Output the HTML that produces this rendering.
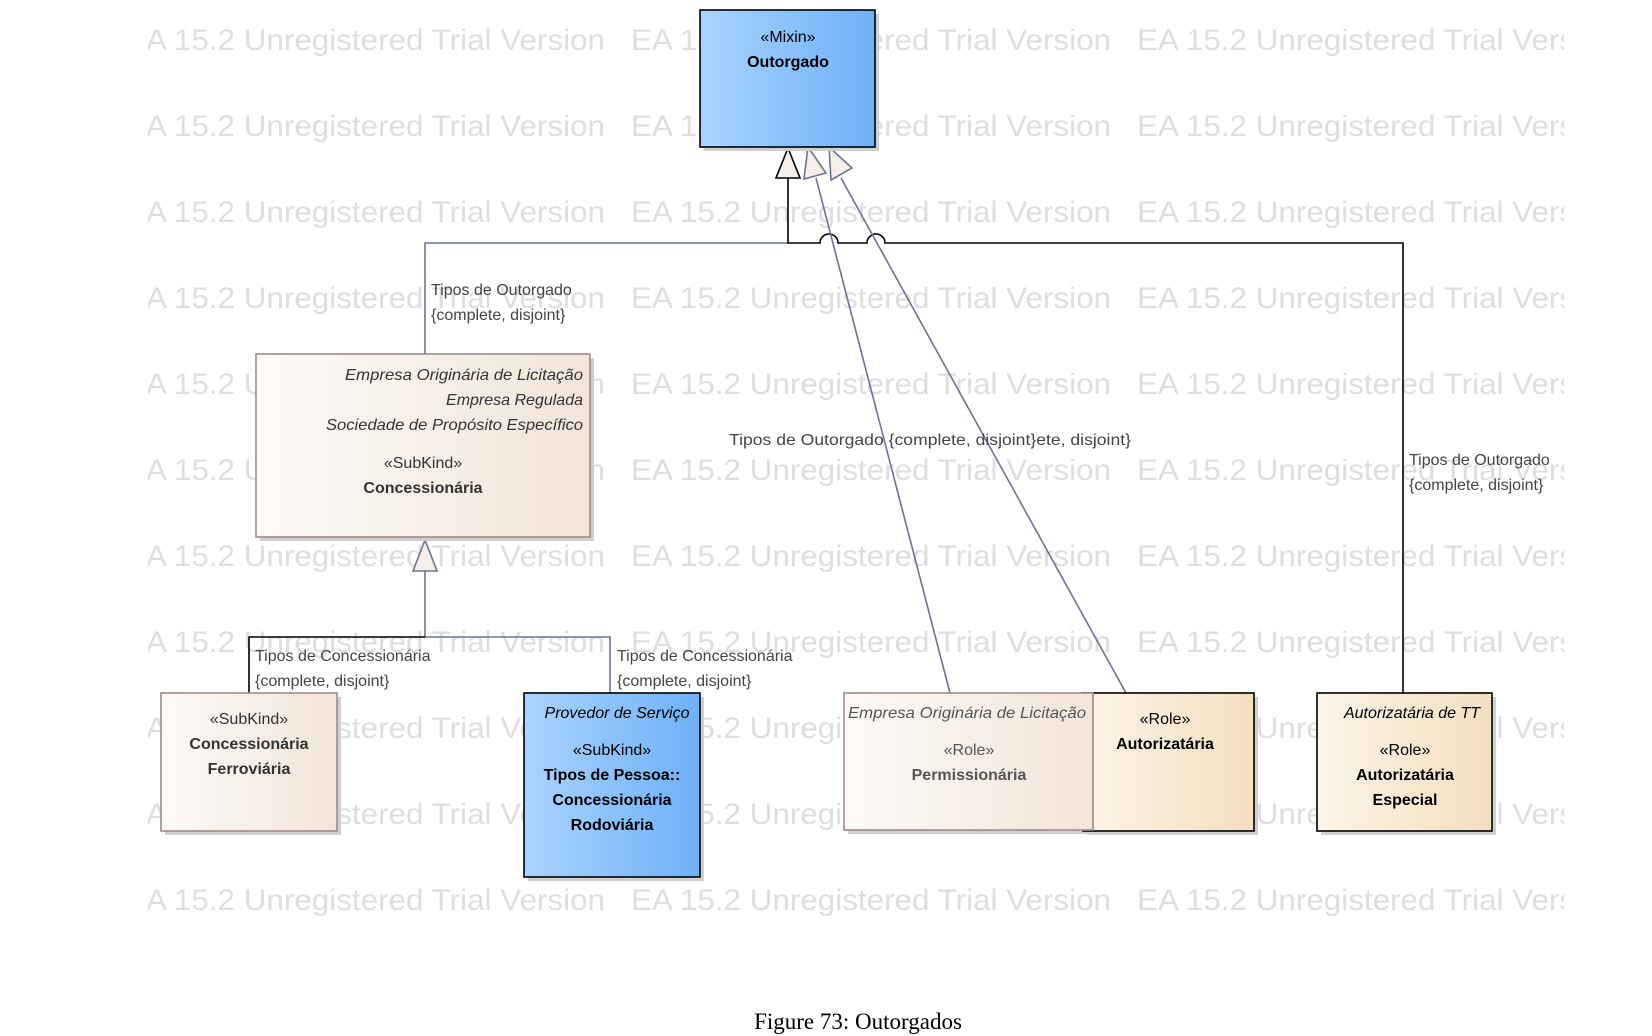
<!DOCTYPE html>
<html><head><meta charset="utf-8"><style>
html,body{margin:0;padding:0;background:#fff;}
svg{display:block;}
text{font-family:"Liberation Sans",sans-serif;}
.wm{font-size:30px;fill:#dedede;}
.t{font-size:16px;fill:#333;}
.l{font-size:16px;fill:#444;}
.b{font-weight:bold;}
.i{font-style:italic;}
</style></head><body>
<svg width="1652" height="1036" viewBox="0 0 1652 1036" xmlns="http://www.w3.org/2000/svg">
<defs>
<linearGradient id="blue" x1="0" x2="1" y1="0" y2="0"><stop offset="0" stop-color="#aad3ff"/><stop offset="1" stop-color="#6db1f7"/></linearGradient>
<linearGradient id="pale" x1="0" x2="1" y1="0" y2="0"><stop offset="0" stop-color="#fcfaf8"/><stop offset="1" stop-color="#f3e5d8"/></linearGradient>
<linearGradient id="tan" x1="0" x2="1" y1="0" y2="0"><stop offset="0" stop-color="#fcf4e8"/><stop offset="1" stop-color="#f3dfbf"/></linearGradient>
<clipPath id="wc"><rect x="148" y="0" width="1416" height="1000"/></clipPath>
</defs>
<g clip-path="url(#wc)" class="wm">
<g id="row">
<text x="125" y="50" textLength="480" lengthAdjust="spacingAndGlyphs">EA 15.2 Unregistered Trial Version</text>
<text x="631" y="50" textLength="480" lengthAdjust="spacingAndGlyphs">EA 15.2 Unregistered Trial Version</text>
<text x="1137" y="50" textLength="480" lengthAdjust="spacingAndGlyphs">EA 15.2 Unregistered Trial Version</text>
</g>
<use href="#row" y="86"/><use href="#row" y="172"/><use href="#row" y="258"/><use href="#row" y="344"/><use href="#row" y="430"/><use href="#row" y="516"/><use href="#row" y="602"/><use href="#row" y="688"/><use href="#row" y="774"/><use href="#row" y="860"/>
</g>
<rect x="0" y="960" width="1652" height="30" fill="#fff"/>

<g fill="none" stroke-width="1.6">
<path d="M425 354 V243 H788" stroke="#6a7590"/>
<path d="M788 178 V243 H820 a9 9 0 0 1 18 0 H867 a9 9 0 0 1 18 0 H1403 V693" stroke="#000"/>
<path d="M816 178 L950 693" stroke="#6a7590"/>
<path d="M841 178 L1126 693" stroke="#6a7590"/>
<path d="M425 570 V637 H610 V693" stroke="#6a7590"/>
<path d="M425 637 H249 V693" stroke="#000"/>
</g>
<polygon points="788,148 776,178 800,178" fill="#f6efe9" stroke="#000" stroke-width="1.6"/>
<polygon points="808,147 804,179 826,173" fill="#f6efe9" stroke="#6a7590" stroke-width="1.6"/>
<polygon points="829,147 831,180 852,168" fill="#f6efe9" stroke="#6a7590" stroke-width="1.6"/>
<polygon points="425,540 413,571 437,571" fill="#f6efe9" stroke="#6a7590" stroke-width="1.6"/>

<g fill="#cfcfcf">
<rect x="704" y="14" width="175" height="137"/>
<rect x="260" y="358" width="334" height="183"/>
<rect x="165" y="697" width="176" height="138"/>
<rect x="528" y="697" width="176" height="184"/>
<rect x="848" y="697" width="249" height="137"/>
<rect x="1087" y="697" width="171" height="138"/>
<rect x="1321" y="697" width="175" height="138"/>
</g>
<rect x="700" y="10" width="175" height="137" fill="url(#blue)" stroke="#000" stroke-width="1.6"/>
<rect x="256" y="354" width="334" height="183" fill="url(#pale)" stroke="#a08a88" stroke-width="1.6"/>
<rect x="161" y="693" width="176" height="138" fill="url(#pale)" stroke="#a08a88" stroke-width="1.6"/>
<rect x="524" y="693" width="176" height="184" fill="url(#blue)" stroke="#000" stroke-width="1.6"/>
<rect x="1083" y="693" width="171" height="138" fill="url(#tan)" stroke="#000" stroke-width="1.6"/>
<rect x="844" y="693" width="249" height="137" fill="url(#pale)" stroke="#a08a88" stroke-width="1.6"/>
<rect x="1317" y="693" width="175" height="138" fill="url(#tan)" stroke="#000" stroke-width="1.6"/>

<g class="t" text-anchor="middle">
<text x="788" y="42" fill="#000">«Mixin»</text>
<text x="788" y="67" class="b" fill="#000">Outorgado</text>
<g text-anchor="end" class="i"><text x="583" y="380" textLength="238" lengthAdjust="spacingAndGlyphs">Empresa Originária de Licitação</text><text x="583" y="405">Empresa Regulada</text><text x="583" y="430" textLength="257" lengthAdjust="spacingAndGlyphs">Sociedade de Propósito Específico</text></g>
<text x="423" y="468">«SubKind»</text>
<text x="423" y="493" class="b">Concessionária</text>
<text x="249" y="724">«SubKind»</text>
<text x="249" y="749" class="b">Concessionária</text>
<text x="249" y="774" class="b">Ferroviária</text>
<text x="617" y="718" class="i" fill="#000">Provedor de Serviço</text>
<text x="612" y="755" fill="#000">«SubKind»</text>
<text x="612" y="780" class="b" fill="#000">Tipos de Pessoa::</text>
<text x="612" y="805" class="b" fill="#000">Concessionária</text>
<text x="612" y="830" class="b" fill="#000">Rodoviária</text>
<text x="967" y="718" class="i" fill="#555" textLength="238" lengthAdjust="spacingAndGlyphs">Empresa Originária de Licitação</text>
<text x="969" y="755" fill="#555">«Role»</text>
<text x="969" y="780" class="b" fill="#555">Permissionária</text>
<text x="1165" y="724" fill="#000">«Role»</text>
<text x="1165" y="749" class="b" fill="#000">Autorizatária</text>
<text x="1412" y="718" class="i" fill="#000">Autorizatária de TT</text>
<text x="1405" y="755" fill="#000">«Role»</text>
<text x="1405" y="780" class="b" fill="#000">Autorizatária</text>
<text x="1405" y="805" class="b" fill="#000">Especial</text>
</g>
<g class="l">
<text x="431" y="295">Tipos de Outorgado</text>
<text x="431" y="320">{complete, disjoint}</text>
<text x="729" y="445" textLength="402" lengthAdjust="spacingAndGlyphs">Tipos de Outorgado {complete, disjoint}ete, disjoint}</text>
<text x="1409" y="465">Tipos de Outorgado</text>
<text x="1409" y="490">{complete, disjoint}</text>
<text x="255" y="661">Tipos de Concessionária</text>
<text x="255" y="686">{complete, disjoint}</text>
<text x="617" y="661">Tipos de Concessionária</text>
<text x="617" y="686">{complete, disjoint}</text>
</g>
<text x="858" y="1029" text-anchor="middle" font-size="23" fill="#000" style="font-family:'Liberation Serif',serif">Figure 73: Outorgados</text>
</svg>
</body></html>
